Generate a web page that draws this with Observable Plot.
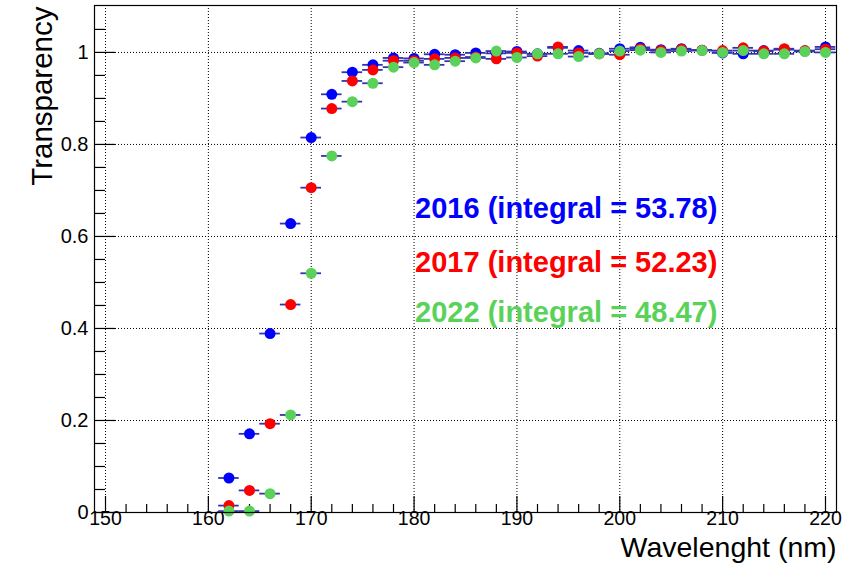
<!DOCTYPE html>
<html>
<head>
<meta charset="utf-8">
<script src="https://cdn.jsdelivr.net/npm/d3@7"></script>
<script src="https://cdn.jsdelivr.net/npm/@observablehq/plot@0.6"></script>
<style>
  html, body { margin: 0; padding: 0; background: #fff; }
</style>
</head>
<body>
<div id="chart"></div>
<script>
// ---- data ----
const wavelengths = [162,164,166,168,170,172,174,176,178,180,182,184,186,188,190,192,194,196,198,200,202,204,206,208,210,212,214,216,218,220];
const transp2016 = [0.075,0.171,0.389,0.628,0.815,0.909,0.957,0.973,0.988,0.987,0.996,0.995,0.999,0.998,1.002,0.997,1.010,1.004,0.998,1.008,1.011,1.006,1.008,1.005,0.999,0.997,1.004,1.006,1.003,1.012];
const transp2017 = [0.015,0.048,0.193,0.452,0.706,0.878,0.938,0.962,0.982,0.982,0.986,0.988,0.990,0.986,0.999,0.992,1.012,0.999,0.997,0.995,1.008,1.004,1.007,1.005,1.004,1.010,1.003,1.008,1.004,1.007];
const transp2022 = [0.003,0.003,0.041,0.212,0.520,0.775,0.893,0.933,0.968,0.978,0.973,0.981,0.988,1.003,0.989,0.997,0.997,0.991,0.997,1.003,1.005,1.000,1.003,1.004,1.000,1.004,0.997,0.997,1.002,1.000];
const seriesNames = ["2016", "2017", "2022"];
const integrals = ["53.78", "52.23", "48.47"];
const seriesColors = ["#0000ff", "#ff0000", "#5ad25a"];
const binHalfWidth = 1;

const xMajorTicks = [150,160,170,180,190,200,210,220];
const xMinorTicks = d3.range(150, 221, 2).filter(v => v % 10 !== 0);
const yMajorTicks = [0, 0.2, 0.4, 0.6, 0.8, 1];
const yTickLabels = ["0", "0.2", "0.4", "0.6", "0.8", "1"];
const yMinorTicks = d3.range(0, 22).map(i => +(i * 0.05).toFixed(2)).filter(v => Math.round(v * 100) % 20 !== 0);
const xTitle = "Wavelenght (nm)";
const yTitle = "Transparency";
const xDomain = [148.93, 221.07];
const yDomain = [0, 1.102];
// legend anchor in data coords
const legendX = 180.1;
const legendY = [0.661, 0.543, 0.435];

const allSeries = [transp2016, transp2017, transp2022];
const rows = [];
allSeries.forEach((vals, s) => {
  vals.forEach((v, i) => rows.push({series: s, x: wavelengths[i], y: v}));
});
const legendRows = seriesNames.map((n, i) => ({label: `${n} (integral = ${integrals[i]})`, y: legendY[i], color: seriesColors[i]}));

const font = "'Liberation Sans', Arial, Helvetica, sans-serif";
const errColor = "#3434b0";

const seriesMarks = [];
allSeries.forEach((vals, s) => {
  const d = rows.filter(r => r.series === s);
  seriesMarks.push(Plot.ruleY(d, {y: "y", x1: r => r.x - binHalfWidth, x2: r => r.x + binHalfWidth, stroke: errColor, strokeWidth: 1.8}));
  seriesMarks.push(Plot.dot(d, {x: "x", y: "y", r: 5.5, fill: seriesColors[s], stroke: "none"}));
});

const chart = Plot.plot({
  width: 859,
  height: 569,
  marginLeft: 94,
  marginRight: 23,
  marginTop: 5,
  marginBottom: 57,
  style: {fontFamily: font, background: "#fff", color: "#000"},
  x: {domain: xDomain, axis: null},
  y: {domain: yDomain, axis: null},
  marks: [
    // dotted grid
    Plot.gridX(xMajorTicks, {stroke: "#000", strokeOpacity: 1, strokeWidth: 1, strokeDasharray: "1,2"}),
    Plot.gridY(yMajorTicks.filter(v => v > 0), {stroke: "#000", strokeOpacity: 1, strokeWidth: 1, strokeDasharray: "1,2"}),
    // ticks (inward)
    Plot.ruleX(xMajorTicks, {x: d => d, y1: 0, y2: 0, insetBottom: 16, stroke: "#000", strokeWidth: 1.2}),
    Plot.ruleX(xMinorTicks, {x: d => d, y1: 0, y2: 0, insetBottom: 8, stroke: "#000", strokeWidth: 1.2}),
    Plot.ruleY(yMajorTicks, {y: d => d, x1: xDomain[0], x2: xDomain[0], insetRight: -21, stroke: "#000", strokeWidth: 1.2}),
    Plot.ruleY(yMinorTicks, {y: d => d, x1: xDomain[0], x2: xDomain[0], insetRight: -11, stroke: "#000", strokeWidth: 1.2}),
    // tick labels
    Plot.text(xMajorTicks, {x: d => d, frameAnchor: "bottom", dy: 12, text: d => String(d), fontSize: 19.5, fill: "#000"}),
    Plot.text(yMajorTicks, {y: d => d, frameAnchor: "left", dx: -6, textAnchor: "end", text: (d, i) => yTickLabels[i], fontSize: 20, fill: "#000"}),
    // axis titles
    Plot.text([xTitle], {frameAnchor: "bottom-right", dy: 44, textAnchor: "end", text: d => d, fontSize: 28.5, fill: "#000"}),
    Plot.text([yTitle], {frameAnchor: "top-left", dx: -63, dy: 1, rotate: -90, textAnchor: "end", text: d => d, fontSize: 29.5, fill: "#000"}),
    // data
    ...seriesMarks,
    // legend labels
    Plot.text(legendRows, {x: () => legendX, y: "y", text: "label", fill: "color", textAnchor: "start", fontSize: 29, fontWeight: "bold"}),
    Plot.frame({stroke: "#000", strokeWidth: 1.2})
  ]
});
document.getElementById("chart").appendChild(chart);
</script>
</body>
</html>
